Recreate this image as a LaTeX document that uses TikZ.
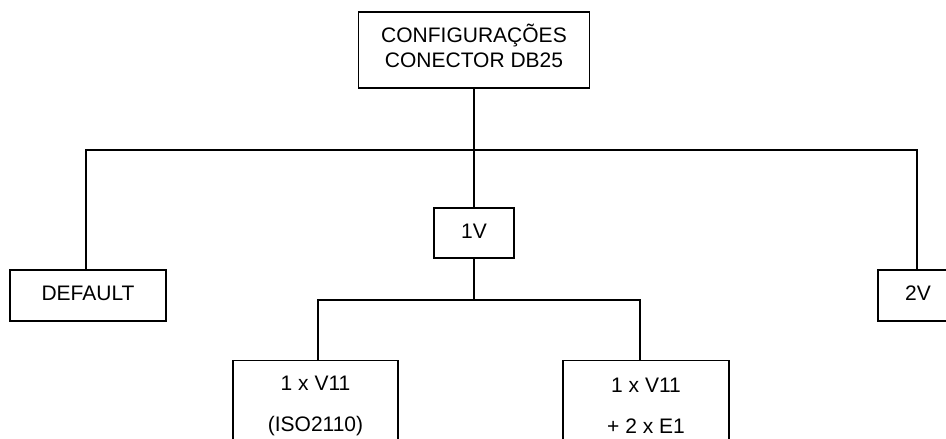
\documentclass[tikz,border=0pt]{standalone}
\usepackage{fontspec}
\setmainfont{Liberation Sans}
\begin{document}
\begin{tikzpicture}[x=1pt,y=-1pt,
  box/.style={draw, line width=1.4pt, inner sep=0pt, align=center, font=\fontsize{21}{25}\selectfont},
  conn/.style={line width=1.4pt}]
\useasboundingbox (0,0) rectangle (946,439);
\node[box, minimum width=231pt, minimum height=76pt, text depth=8pt] (top) at (474,50) {CONFIGURAÇÕES\\CONECTOR DB25};
\node[box, minimum width=80pt, minimum height=50pt, text depth=4pt] (onev) at (474,233) {1V};
\node[box, minimum width=156pt, minimum height=51pt, text depth=5pt] (def) at (88,295.5) {DEFAULT};
\node[box, minimum width=80pt, minimum height=51pt, text depth=5pt] (twov) at (918,295.5) {2V};
\node[box, minimum width=165pt, minimum height=90pt, anchor=north] (bl) at (315.5,360) {1 x V11\\[16pt](ISO2110)};
\node[box, minimum width=166pt, minimum height=90pt, anchor=north] (br) at (646,360) {1 x V11\\[16pt]+ 2 x E1};
\coordinate (jl) at (86,150);
\coordinate (jr) at (917,150);
\coordinate (cl) at (318,300);
\coordinate (cr) at (640,300);
\draw[conn] (top.south) -- (onev.north);
\draw[conn] ([xshift=-2pt]def.north) -- (jl) -- (jr) -- ([xshift=-1pt]twov.north);
\draw[conn] (onev.south) -- (onev.south |- cl);
\draw[conn] ([xshift=2.5pt]bl.north) -- (cl) -- (cr) -- ([xshift=-6pt]br.north);
\end{tikzpicture}
\end{document}
